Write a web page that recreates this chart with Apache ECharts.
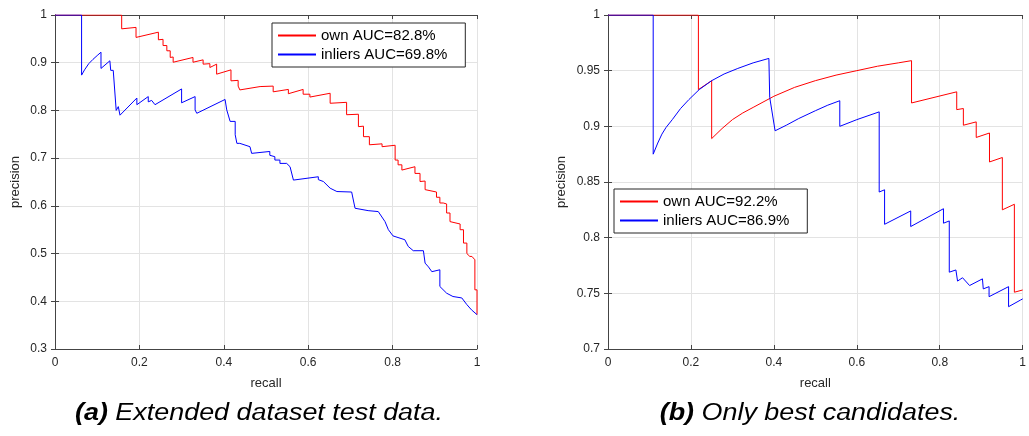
<!DOCTYPE html>
<html>
<head>
<meta charset="utf-8">
<script src="https://cdn.jsdelivr.net/npm/echarts@6/dist/echarts.min.js"></script>
<style>
  html, body { margin: 0; padding: 0; background: #fff; }
  #main { width: 1029px; height: 436px; }
</style>
</head>
<body>
<div id="main"></div>
<script>
// (a) extended dataset test data: [recall, precision]
const ownA = [
  [0, 1], [0.158, 1], [0.158, 0.971], [0.192, 0.974], [0.192, 0.953], [0.245, 0.964], [0.245, 0.948],
  [0.256, 0.949], [0.256, 0.936], [0.265, 0.936], [0.265, 0.925], [0.273, 0.925], [0.273, 0.911],
  [0.28, 0.912], [0.28, 0.901], [0.327, 0.911], [0.327, 0.901], [0.351, 0.906], [0.351, 0.897],
  [0.367, 0.898], [0.367, 0.89], [0.383, 0.897], [0.383, 0.876], [0.417, 0.885], [0.417, 0.862],
  [0.434, 0.863], [0.434, 0.851], [0.438, 0.851], [0.438, 0.843], [0.486, 0.85], [0.517, 0.851],
  [0.517, 0.839], [0.553, 0.844], [0.553, 0.835], [0.588, 0.844], [0.588, 0.834], [0.604, 0.834],
  [0.604, 0.828], [0.652, 0.836], [0.652, 0.815], [0.691, 0.817], [0.691, 0.791], [0.719, 0.792],
  [0.719, 0.766], [0.731, 0.767], [0.731, 0.745], [0.745, 0.745], [0.745, 0.728], [0.775, 0.73],
  [0.775, 0.724], [0.806, 0.727], [0.806, 0.696], [0.813, 0.696], [0.813, 0.686], [0.822, 0.686],
  [0.822, 0.675], [0.853, 0.682], [0.853, 0.668], [0.865, 0.668], [0.865, 0.651], [0.877, 0.652],
  [0.877, 0.634], [0.904, 0.629], [0.904, 0.618], [0.912, 0.618], [0.912, 0.606], [0.92, 0.606],
  [0.928, 0.604], [0.928, 0.585], [0.936, 0.585], [0.936, 0.567], [0.96, 0.562], [0.96, 0.55],
  [0.968, 0.55], [0.968, 0.522], [0.976, 0.522], [0.976, 0.5], [0.983, 0.494], [0.988, 0.494],
  [0.995, 0.487], [0.995, 0.424], [1, 0.424], [1, 0.372]
];
const inliersA = [
  [0, 1], [0.063, 1], [0.063, 0.874], [0.07, 0.885], [0.08, 0.898], [0.09, 0.907], [0.1, 0.915],
  [0.109, 0.922], [0.109, 0.888],
  [0.13, 0.904], [0.132, 0.884], [0.138, 0.884], [0.145, 0.8], [0.15, 0.808], [0.154, 0.79],
  [0.194, 0.826], [0.194, 0.812], [0.221, 0.829], [0.221, 0.818], [0.229, 0.821], [0.237, 0.812],
  [0.3, 0.845], [0.3, 0.816], [0.332, 0.829], [0.332, 0.801], [0.336, 0.794], [0.403, 0.823],
  [0.407, 0.801], [0.41, 0.801], [0.415, 0.777], [0.427, 0.777], [0.427, 0.749], [0.431, 0.731],
  [0.438, 0.731], [0.462, 0.724], [0.466, 0.71], [0.509, 0.714], [0.509, 0.706], [0.521, 0.703],
  [0.521, 0.696], [0.533, 0.696], [0.533, 0.689], [0.549, 0.689], [0.557, 0.682], [0.565, 0.654],
  [0.624, 0.661], [0.624, 0.655], [0.636, 0.651], [0.652, 0.637], [0.668, 0.63], [0.703, 0.629],
  [0.711, 0.595], [0.742, 0.59], [0.766, 0.588], [0.77, 0.585], [0.782, 0.567], [0.79, 0.55],
  [0.801, 0.537], [0.829, 0.529], [0.837, 0.515], [0.849, 0.506], [0.873, 0.506], [0.877, 0.48],
  [0.885, 0.472], [0.893, 0.462], [0.912, 0.466], [0.912, 0.431], [0.928, 0.417], [0.943, 0.41],
  [0.964, 0.407], [0.976, 0.393], [0.987, 0.382], [1, 0.372]
];

// (b) only best candidates
const ownB = [
  [0, 1], [0.218, 1], [0.218, 0.933], [0.25, 0.941], [0.25, 0.889], [0.275, 0.898], [0.3, 0.906],
  [0.325, 0.912], [0.35, 0.917], [0.4, 0.927], [0.45, 0.935], [0.5, 0.941], [0.55, 0.946],
  [0.6, 0.95], [0.65, 0.954], [0.7, 0.957], [0.732, 0.959], [0.732, 0.921], [0.841, 0.931],
  [0.841, 0.915], [0.857, 0.916], [0.857, 0.901], [0.888, 0.904], [0.888, 0.89], [0.92, 0.894],
  [0.92, 0.868], [0.951, 0.872], [0.951, 0.825], [0.98, 0.83], [0.98, 0.751], [1, 0.753]
];
const inliersB = [
  [0, 1], [0.109, 1], [0.109, 0.875], [0.12, 0.885], [0.13, 0.893], [0.14, 0.899], [0.155, 0.906],
  [0.175, 0.916], [0.195, 0.924], [0.22, 0.933], [0.25, 0.941], [0.28, 0.947], [0.313, 0.952],
  [0.35, 0.957], [0.388, 0.961], [0.39, 0.926], [0.403, 0.896], [0.43, 0.901], [0.46, 0.907],
  [0.5, 0.914], [0.53, 0.919], [0.559, 0.923], [0.559, 0.9], [0.6, 0.906], [0.654, 0.913],
  [0.654, 0.841], [0.667, 0.843],
  [0.667, 0.812], [0.73, 0.824], [0.73, 0.81], [0.809, 0.826], [0.809, 0.813], [0.823, 0.815],
  [0.823, 0.769], [0.839, 0.771], [0.843, 0.761], [0.855, 0.764], [0.872, 0.757], [0.903, 0.763],
  [0.905, 0.754], [0.919, 0.756], [0.919, 0.747], [0.966, 0.756], [0.966, 0.738], [0.995, 0.744],
  [1, 0.745]
];

const namesA = ['own AUC=82.8%', 'inliers AUC=69.8%'];
const namesB = ['own AUC=92.2%', 'inliers AUC=86.9%'];
const captions = [['(a)', 'Extended dataset test data.'], ['(b)', 'Only best candidates.']];

const font = 'Liberation Sans, Arial, Helvetica, sans-serif';
const axisColor = '#444';
const gridColor = '#e3e3e3';

function xAxes(gi) {
  return [
    {
      gridIndex: gi, type: 'value', min: 0, max: 1, interval: 0.2, position: 'bottom',
      name: 'recall', nameLocation: 'middle', nameGap: 28,
      nameTextStyle: { fontFamily: font, fontSize: 13, color: '#262626' },
      axisLine: { show: true, lineStyle: { color: axisColor, width: 1 } },
      axisTick: { show: true, inside: true, length: 4, lineStyle: { color: axisColor } },
      axisLabel: { fontFamily: font, fontSize: 12, color: '#262626', margin: 8 },
      splitLine: { show: true, lineStyle: { color: gridColor, width: 1 } }
    },
    {
      gridIndex: gi, type: 'value', min: 0, max: 1, interval: 0.2, position: 'top',
      axisLine: { show: true, lineStyle: { color: axisColor, width: 1 } },
      axisTick: { show: true, inside: true, length: 4, lineStyle: { color: axisColor } },
      axisLabel: { show: false }, splitLine: { show: false }
    }
  ];
}
function yAxes(gi, min, step, gap) {
  return [
    {
      gridIndex: gi, type: 'value', min: min, max: 1, interval: step, position: 'left',
      name: 'precision', nameLocation: 'middle', nameGap: gap,
      nameTextStyle: { fontFamily: font, fontSize: 13, color: '#262626' },
      axisLine: { show: true, lineStyle: { color: axisColor, width: 1 } },
      axisTick: { show: true, inside: true, length: 4, lineStyle: { color: axisColor } },
      axisLabel: { fontFamily: font, fontSize: 12, color: '#262626', margin: 8 },
      splitLine: { show: true, lineStyle: { color: gridColor, width: 1 } }
    },
    {
      gridIndex: gi, type: 'value', min: min, max: 1, interval: step, position: 'right',
      axisLine: { show: true, lineStyle: { color: axisColor, width: 1 } },
      axisTick: { show: true, inside: true, length: 4, lineStyle: { color: axisColor } },
      axisLabel: { show: false }, splitLine: { show: false }
    }
  ];
}
function line(name, data, color, axisBase) {
  return {
    name: name, type: 'line', data: data, xAxisIndex: axisBase, yAxisIndex: axisBase,
    symbol: 'none', color: color, lineStyle: { color: color, width: 1 }, z: 3
  };
}
function legend(names, left, top) {
  return {
    data: names, orient: 'vertical', left: left, top: top,
    padding: [5, 18, 5, 5], itemGap: 4, itemWidth: 38, itemHeight: 14,
    itemStyle: { opacity: 0 },
    borderColor: '#262626', borderWidth: 1, backgroundColor: '#fff',
    textStyle: { fontFamily: font, fontSize: 15, color: '#000' }
  };
}
// caption text, a bit wider than tall like in the source figure
function caption(c, cx) {
  return {
    type: 'text', x: cx, y: 414, scaleX: 1.17, originX: 0, originY: 0,
    style: {
      text: '{b|' + c[0] + '} ' + c[1], align: 'center', verticalAlign: 'middle',
      fontFamily: font, fontSize: 23, fontStyle: 'italic', fill: '#000',
      rich: { b: { fontFamily: font, fontSize: 23, fontStyle: 'italic', fontWeight: 'bold', fill: '#000' } }
    }
  };
}

const option = {
  animation: false,
  backgroundColor: '#fff',
  grid: [
    { left: 55, top: 15, width: 422, height: 334 },
    { left: 608, top: 15, width: 423, height: 334 }
  ],
  xAxis: [...xAxes(0), ...xAxes(1)],
  yAxis: [...yAxes(0, 0.3, 0.1, 33), ...yAxes(1, 0.7, 0.05, 40)],
  legend: [legend(namesA, 272, 23), legend(namesB, 614, 189)],
  graphic: [caption(captions[0], 259), caption(captions[1], 810)],
  series: [
    line(namesA[0], ownA, '#ff0000', 0),
    line(namesA[1], inliersA, '#0000ff', 0),
    line(namesB[0], ownB, '#ff0000', 2),
    line(namesB[1], inliersB, '#0000ff', 2)
  ]
};

const chart = echarts.init(document.getElementById('main'));
chart.setOption(option);
</script>
</body>
</html>
